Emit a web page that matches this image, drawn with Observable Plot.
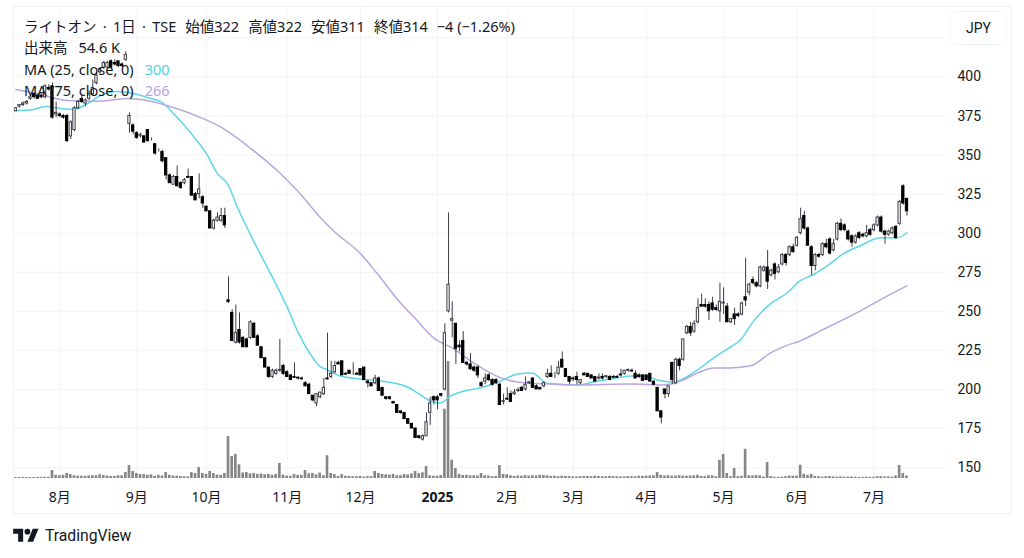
<!DOCTYPE html>
<html lang="ja">
<head>
<meta charset="utf-8">
<script src="https://cdn.jsdelivr.net/npm/d3@7"></script>
<script src="https://cdn.jsdelivr.net/npm/@observablehq/plot@0.6"></script>
<style>
html,body{margin:0;padding:0;background:#fff;}
#wrap{position:relative;width:1024px;height:558px;overflow:hidden;font-family:"Noto Sans","Noto Sans CJK JP",sans-serif;color:#131722;}
#frame{position:absolute;left:13px;top:6px;width:997px;height:506px;border:1px solid #f0f1f4;pointer-events:none;}
#chart{position:absolute;left:0;top:0;}
#chart svg{display:block;}
.leg{position:absolute;left:24px;font-size:14.5px;line-height:18px;white-space:pre;}
.leg .g{margin-left:11px;}
.leg .h{margin-left:9px;}
.leg .w{word-spacing:2.5px;}
#jpy{position:absolute;left:950px;top:11px;width:55px;height:32px;border:1px solid #f0f1f4;border-radius:6px;text-align:center;line-height:32px;font-size:14px;box-sizing:content-box;font-family:Roboto,sans-serif;}
#logo{position:absolute;left:13px;top:526px;}
#brand{position:absolute;left:45px;top:525px;font-size:15.7px;line-height:22px;font-family:Roboto,sans-serif;}
</style>
</head>
<body>
<div id="wrap">
  <div id="chart"></div>
  <div id="frame"></div>
  <div class="leg" style="top:17px"><span class="w">ライトオン · 1日 · TSE</span><span class="h">始値322</span><span class="h">高値322</span><span class="h">安値311</span><span class="h">終値314</span><span class="h">−4 (−1.26%)</span></div>
  <div class="leg" style="top:38px">出来高<span class="g">54.6 K</span></div>
  <div class="leg" style="top:60px">MA (25, close, 0)<span class="g" style="color:#4fd0e4">300</span></div>
  <div class="leg" style="top:81px">MA (75, close, 0)<span class="g" style="color:#b8a3e0">266</span></div>
  <div id="jpy">JPY</div>
  <svg id="logo" width="26" height="20" viewBox="0 0 36 28"><path fill="#131722" d="M14 22H7V11H0V4h14v18zM28 22h-8l7.5-18h8L28 22z"/><circle fill="#131722" cx="20" cy="8" r="4"/></svg>
  <div id="brand">TradingView</div>
</div>
<script>
const opens = [
378,381,382,383,386,389,388,388,387,393,
394,376,376,375,375,362,366,380,386,383,
386,389,396,403,406,406,410,409,410,408,
411,370,369,364,362,362,366,360,357,353,
352,348,337,331,336,332,332,336,336,325,
325,323,317,314,303,308,308,311,257,249,
230,238,233,232,233,242,234,227,220,214,
208,210,212,215,211,209,208,207.5,207,204,
203,196,191,195,197,207,208,211,217,218,
210,212,210,210,213,214,205,204,204,207,
201,195,195,192,190,186,185,181,178,175,
170,168,170,185,195,195,197,200,250,244,
242,228,231,217,216,214,214,204,205,209,
206,206,203,192,194,197,197,199,201,200,
204,207,202,201,202,208,210,208,210,219,
213,208,207,208,204,210,210,209,208,207,
208,208,208,208,208,209.5,210,212,212,210,209,
209,209,210,205,201,186,200,197,217,204,
219,219,236,240,237,243,254,254,254,255,
252,250,255,253,243,248,248,248,259,262,
270,268,266,276,278,273,280,275,280,286,
286,291,292,300,311,303,291,279,286,286,
293,296,289,296,306,305,301,298,294,300,
299,298,302,302,305,310,301,299,300,304,
306,330,322];
const highs = [
380.5,382,384,385,388,390,389,389,395,395,
396,384,377,376,376,372,381,385,389,386,
391,398,403,406,410,410,411,411,410,409,
416,377,370,365,364,362,366,361,357,354,
353,348,338,337,343,333,335,341,336,326,
338,324,317,314,309,313,316,316,272,251,
254,249,234,233,244,243,235,227,220,214,
213,213,232,216,212,209,217,208,208,205,
204,196,197,198,207,236,218,218,218,218,
211,212,217,211,213,214,206,204,209,208,
201,195,195,192,190,186,185,181,178,175,
170,171,185,195,196,196,197,242,313,256,
242,231,237,218,223,215,215,205,210,210,
207,207,204,197,201,199,200,201,202,208,
205,207,203,201,205,213,215,211,218,224,
213,208,208,211,206,211,210,209,208,210,
210,209,209,209,209,213,212,213,213,212,210,
209,209,210,205,201,186,200,202,217,220,
220,232,241,243,244,258,261,258,256,259,
254,268,265,255,245,252,249,256,284,268,
272,269,279,279,289,277,281,280,287,287,
292,293,298,316,314,304,292,287,287,294,
296,297,296,307,309,306,302,299,299,301,
300,305,303,306,311,311,302,302,304,305,
321,331,322];
const lows = [
378,380,381,382,385,386,386,386,386,391,
373,374,374,373,358,360,365,379,383,381,
385,388,395,402,405,405,405,407,406,406,
410,364,363,360,361,358,358,359,350,352,
345,334,332,331,330,328,331,335,324,321,
322,316,314,303,302,307,307,303,255,231,
229,229,227,227,232,233,228,220,214,207,
207,209,211,209,208,206,207,206,206,202,
197,192,189,194,196,206,207,210,216,209,
209,210,209,209,209,206,201,202,203,199,
196,193,193,191,185,184,181,178,175,169,
168,167,170,177,190,187,195,199,249,233,
216,224,217,215,212,211,207,202,203,205,
202,203,190,190,193,192,196,198,199,199,
203,201,200,200,201,207,208,207,209,214,
208,203,205,203,203,209,208,207,205,206,
206,207,206,207,207,208,209,211,211,207,207,
205,206,205,203,186,178,194,195,203,203,
212,218,235,234,236,242,253,252,244,250,
250,243,248,243,242,241,246,247,253,260,
267,265,265,275,264,272,270,274,279,279,
285,287,291,299,302,292,273,276,284,285,
290,286,288,295,301,301,295,291,293,296,
297,297,298,301,304,300,293,298,299,296,
305,318,311];
const closes = [
380,382,383,384,387,387,386,387,394,392,
374,377,375,374,359,371,380,384,384,385,
389,393,401,405,409,409,406,408,407,407,
414,375,365,361,363,358,359,360,351,353,
346,337,332,336,330,329,334,335.5,324,321,
328,319,314,303,308,310,311,305,256,231,
236,230,227,227,243,233,228,220,214,208,
212,212,212.5,210,208,206,207.5,207,206.5,202,
197,193,197,198,201,206.5,210,215,216,209,
209.5,210,210,209.5,209,206,204,202,207,199,
196,194,194,191,185,185,181,178,175,169,
169,170,179,191,193,193,196,236,267,245,
226,227,217,216,213,212,209,202,207,206,
203,204,190,192.5,193.5,192,198,199.5,199,203,
204.5,201,200,200,204,210,208,208,214,214,
208,205,206.5,206,206,209,208,207,205,207.5,
207,208.5,206,207.5,207.5,209,212,212.5,211.5,207,208,
205.5,206,205,203,186,182,197,202,206,219,
215,232,240,236,242,252,253,253,250,251,
251,256,255.5,243,245,245,247,255,257,267,
268,266,278,278,269,276,274,278,286,281,
291,288,297,309,303,292,279,286,285,293,
291,287,293,306,302,302,296,294,298,297,
298,300,299,305,310,301,299,301,303,297,
320,319,314];
// 出来高 (千株)
const volumes = [
22,22,25,22,22,22,25,25,30,28,
175,70,60,70,110,85,60,50,50,50,
55,60,60,80,65,55,45,45,60,60,
130,285,155,110,85,85,70,80,45,70,
55,130,70,55,50,45,40,35,130,110,
240,110,90,155,110,75,70,110,920,480,
530,300,120,130,100,110,90,100,80,90,
70,90,330,75,55,50,90,70,70,175,
100,110,80,120,60,500,110,85,45,85,
50,45,40,40,45,30,40,40,155,110,
90,80,75,90,60,60,85,80,100,155,
110,125,265,60,50,50,65,1520,2570,400,
220,90,65,70,60,60,55,110,60,55,
40,45,285,90,85,60,45,55,50,65,
50,60,55,70,65,60,45,50,40,50,
45,40,35,35,40,45,45,40,50,45,
40,40,45,40,38,35,35,45,40,35,50,
45,50,55,60,130,70,55,60,50,55,
60,55,50,55,60,70,45,40,60,60,
40,400,530,110,40,220,40,50,640,60,
55,65,60,35,350,45,25,25,30,40,
55,50,55,290,90,65,90,45,40,30,
40,45,35,30,35,30,30,35,30,25,
25,30,25,25,40,40,35,35,30,55,
285,110,54.6];

const ma25Index = [0,4,8.1,12.2,15.5,19.6,23.1,27.7,32.1,35.9,40.3,43,47.6,52.3,55,57.7,60.5,64.8,69.5,74.1,76.8,81.2,83.1,84.5,88.5,94,99.5,106.8,109.5,113.1,115.8,118.5,121.3,126.7,132.2,136.8,140.9,143.1,144.4,147.7,153.2,158.6,164.1,167.6,171.2,175,178.5,181.3,185.9,190.3,194.9,197.6,201.2,205.8,210.4,213.9,217.4,221.3,225.7,230.3,235.8,240.4,243];
const ma25Value = [378.5,378.8,381.1,379.8,379.2,383,388.1,390.7,389.4,386.9,383,376.6,364.4,349.7,338.1,331.7,316.3,295.2,274,252.2,237.5,219.6,214.4,213.1,208.6,206.7,205.4,201.6,197.8,192.6,191.3,195.8,198.4,201,205.4,209.9,210.6,206.7,204.2,203.5,202.9,205.4,207.4,208.6,208.6,206.1,204.8,206.1,212.5,220.2,227.2,231.7,243.9,254.8,261.9,269.6,273.4,279.2,286.9,292,297.1,297.1,300.3];
const ma75Index = [0,6.7,14.1,23.1,30.5,36.7,43,50.4,56.6,64.8,72.2,76.8,83.1,86.6,94,98.6,104.9,109,113.9,119.4,124.8,132.2,136.8,145,153.2,167.6,176.6,181.3,185.9,190.3,194.9,200.3,205.8,209.9,213.9,219.4,230.3,237.7,243];
const ma75Value = [392,388.8,384.9,384.5,386.2,384.5,380.4,374,367,352.9,338.1,327.2,309.9,301.6,286.9,274,255.4,245.2,233,226,217,207.4,204.8,203.5,202.9,203.5,202.9,205.4,210.6,213.8,213.8,215.1,223.4,227.9,231.1,237.5,250.3,259.9,266.3];

const monthIndex = [12,33,52,74,94,134,152,172,193,213,234];
const monthLabels = ["8月","9月","10月","11月","12月","2月","3月","4月","5月","6月","7月"];
const yearIndex = [115];
const yearLabels = ["2025"];
const priceLabels = [150,175,200,225,250,275,300,325,350,375,400];
const gridPrices = [150,175,200,225,250,275,300,325,350,375,400,425];

const candles = opens.map((o,i)=>({i,o,h:highs[i],l:lows[i],c:closes[i],v:volumes[i]}));
const ma25 = ma25Index.map((i,k)=>({i,v:ma25Value[k]}));
const ma75 = ma75Index.map((i,k)=>({i,v:ma75Value[k]}));
const priceFloor = 143;
const kPerPrice = 34.3; // volume pane shares the floor of the price axis
const font = '"Noto Sans","Noto Sans CJK JP",sans-serif';
const hw = 0.31;

const plot = Plot.plot({
  width:1024, height:513, marginLeft:14, marginRight:79, marginTop:6, marginBottom:35,
  style:{fontFamily:font, background:"transparent", color:"#131722"},
  x:{domain:[-0.35,253.5], axis:null},
  y:{domain:[priceFloor,445.1], axis:null},
  marks:[
    Plot.ruleY(gridPrices,{stroke:"#f3f4f6",strokeWidth:1}),
    Plot.ruleX(monthIndex.concat(yearIndex),{stroke:"#f3f4f6",strokeWidth:1}),
    Plot.axisY({anchor:"right",ticks:priceLabels,tickSize:0,tickPadding:12,label:null,fontSize:14,color:"#131722",fontFamily:"Roboto,sans-serif"}),
    Plot.text(monthIndex,{x:d=>d,y:priceFloor,dy:19,text:(d,k)=>monthLabels[k],fontSize:14,fill:"#131722"}),
    Plot.text(yearIndex,{x:d=>d,y:priceFloor,dy:19,text:(d,k)=>yearLabels[k],fontSize:14,fontWeight:700,fill:"#131722"}),
    Plot.rect(candles,{x1:d=>d.i-0.36,x2:d=>d.i+0.36,y1:priceFloor,y2:d=>priceFloor+d.v/kPerPrice,fill:"#868686"}),
    Plot.line(ma25,{x:"i",y:"v",stroke:"#5fd6e8",strokeWidth:1.5,curve:"monotone-x"}),
    Plot.line(ma75,{x:"i",y:"v",stroke:"#b9a6e1",strokeWidth:1.5,curve:"monotone-x"}),
    Plot.ruleX(candles,{x:"i",y1:"l",y2:"h",stroke:"#3a3d45",strokeWidth:1}),
    Plot.rect(candles,{x1:d=>d.i-hw,x2:d=>d.i+hw,y1:d=>Math.min(d.o,d.c),y2:d=>Math.max(d.o,d.c),fill:d=>d.c>=d.o?"#ffffff":"#000000",stroke:d=>d.c>=d.o?"#3a3d45":"#000000",strokeWidth:1})
  ]
});
document.getElementById("chart").appendChild(plot);
</script>
</body>
</html>
